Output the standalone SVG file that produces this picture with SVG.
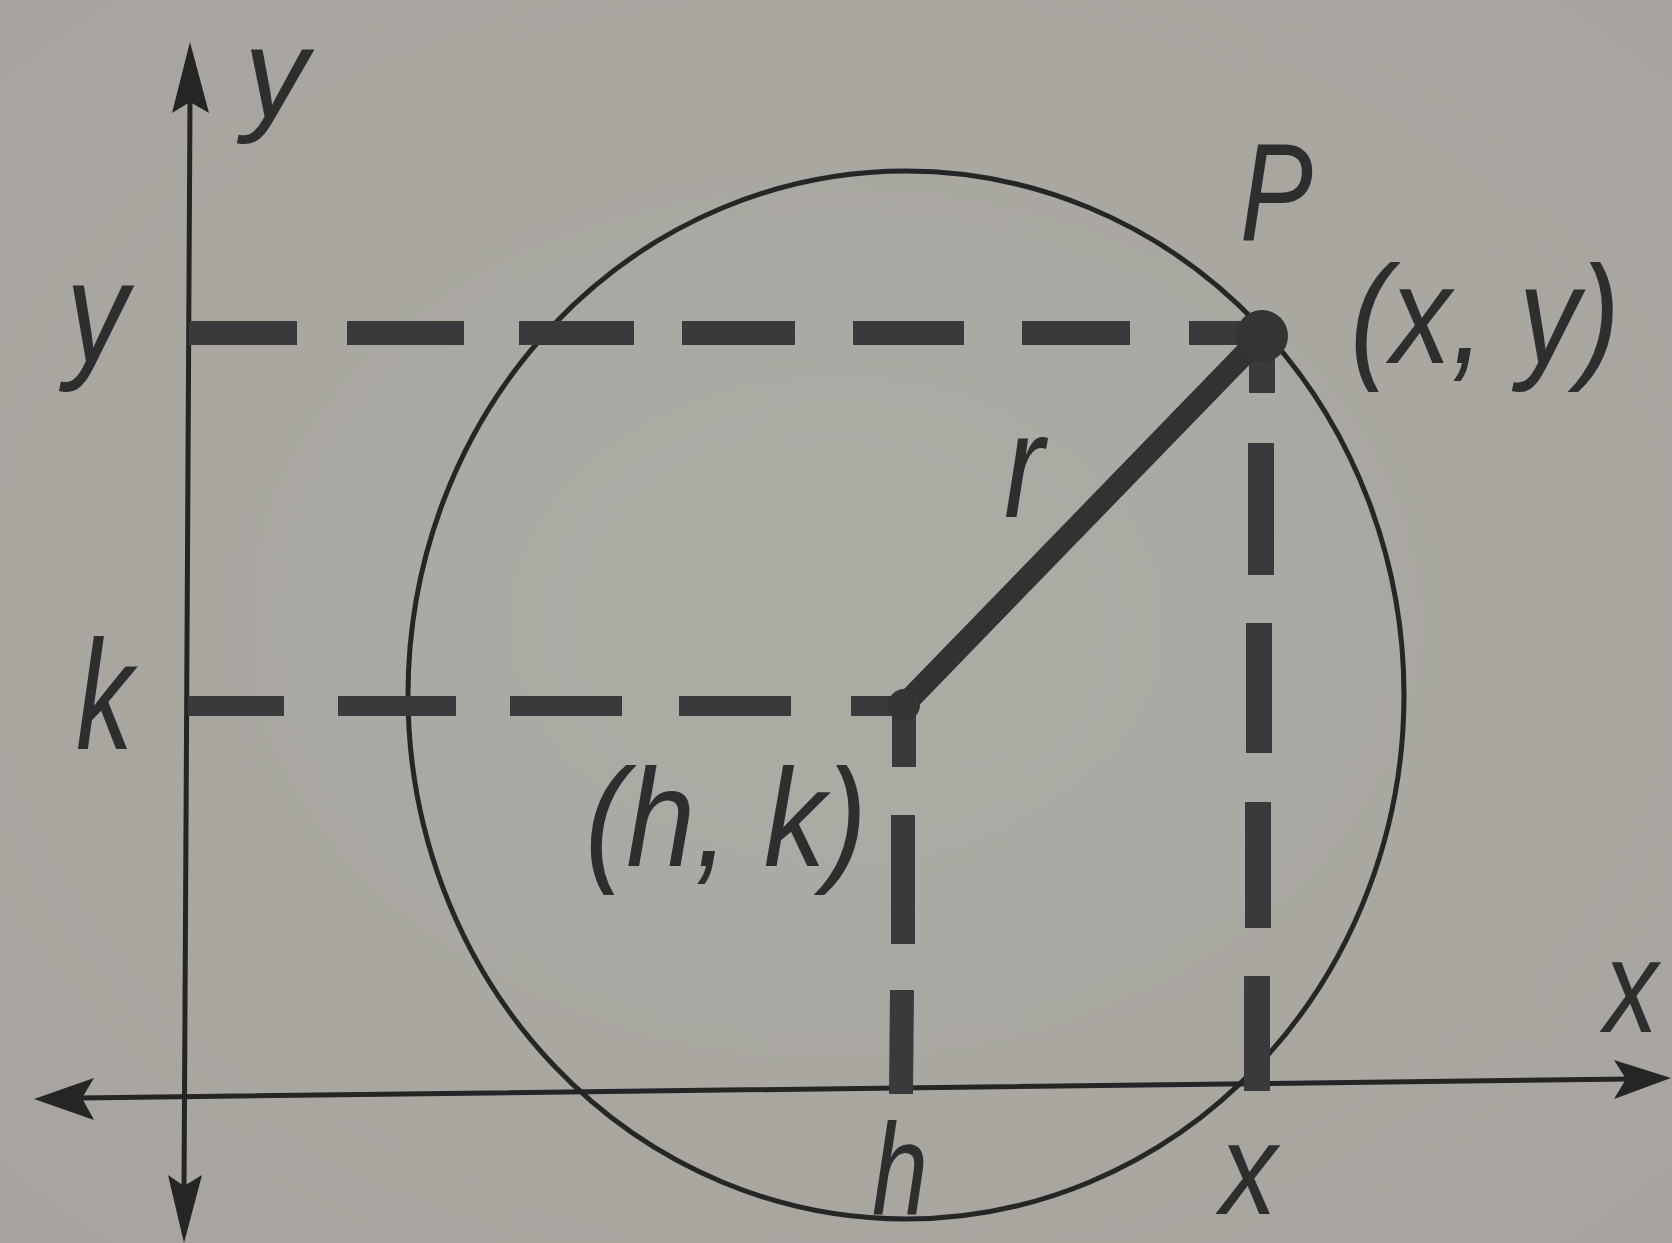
<svg xmlns="http://www.w3.org/2000/svg" width="1672" height="1243" viewBox="0 0 1672 1243">
  <defs>
    <radialGradient id="bg" cx="50%" cy="50%" r="70%">
      <stop offset="0" stop-color="#acaca5"/>
      <stop offset="1" stop-color="#a8a39e"/>
    </radialGradient>
  </defs>
  <style>
    .axis { stroke: #252525; stroke-width: 5; fill: none; stroke-linecap: round; }
    .head { fill: #252525; }
    .curve { stroke: #262626; stroke-width: 5; fill: none; }
    .dash { stroke: #3a393b; stroke-linecap: butt; fill: none; }
    .rad { stroke: #323232; stroke-width: 22; stroke-linecap: round; fill: none; }
    .dot { fill: #343434; }
    .lbl { font-family: "Liberation Sans", Arial, sans-serif; font-style: italic; fill: #2e2e2e; }
  </style>
  <rect x="0" y="0" width="1672" height="1243" fill="url(#bg)"/>

  <g id="circle">
    <ellipse class="curve" cx="906" cy="695" rx="498" ry="524"/>
  </g>

  <g id="axes">
    <line class="axis" x1="190" y1="100" x2="184" y2="1190"/>
    <polygon class="head" points="190,42 172,113 190,102 209,113"/>
    <polygon class="head" points="184,1243 168,1175 184,1186 202,1175"/>
    <line class="axis" x1="80" y1="1098" x2="1630" y2="1079"/>
    <polygon class="head" points="34,1099 94,1078 82,1098 94,1120"/>
    <polygon class="head" points="1671,1078 1614,1060 1626,1079 1614,1099"/>
  </g>

  <g id="connectors">
    <g class="dash" stroke-width="24">
      <line x1="189" y1="333" x2="297" y2="333"/>
      <line x1="347" y1="333" x2="464" y2="333"/>
      <line x1="519" y1="333" x2="634" y2="333"/>
      <line x1="682" y1="333" x2="795" y2="333"/>
      <line x1="853" y1="333" x2="964" y2="333"/>
      <line x1="1022" y1="333" x2="1130" y2="333"/>
      <line x1="1189" y1="333" x2="1262" y2="333"/>
    </g>
    <g class="dash" stroke-width="20">
      <line x1="188" y1="706" x2="284" y2="706"/>
      <line x1="338" y1="706" x2="456" y2="706"/>
      <line x1="510" y1="706" x2="622" y2="706"/>
      <line x1="679" y1="706" x2="791" y2="706"/>
      <line x1="851" y1="706" x2="906" y2="706"/>
    </g>
    <g class="dash" stroke-width="24">
      <line x1="904" y1="700" x2="904" y2="767"/>
      <line x1="903" y1="815" x2="903" y2="944"/>
      <line x1="902" y1="990" x2="901" y2="1094"/>
    </g>
    <g class="dash" stroke-width="26">
      <line x1="1262" y1="334" x2="1262" y2="393"/>
      <line x1="1261" y1="443" x2="1261" y2="575"/>
      <line x1="1259" y1="623" x2="1259" y2="753"/>
      <line x1="1258" y1="802" x2="1258" y2="928"/>
      <line x1="1257" y1="976" x2="1257" y2="1091"/>
    </g>
    <line class="rad" x1="904" y1="705" x2="1262" y2="336"/>
    <circle class="dot" cx="1262" cy="336" r="26"/>
    <circle class="dot" cx="904" cy="705" r="16"/>
  </g>

  <g id="labels">
    <text class="lbl" x="244" y="117" font-size="128">y</text>
    <text class="lbl" x="66" y="362" font-size="145" textLength="62" lengthAdjust="spacingAndGlyphs">y</text>
    <text class="lbl" x="76" y="749" font-size="155" textLength="57" lengthAdjust="spacingAndGlyphs">k</text>
    <text class="lbl" x="1240" y="240" font-size="140" textLength="73" lengthAdjust="spacingAndGlyphs">P</text>
    <text class="lbl" x="1350" y="363" font-size="140" textLength="270" lengthAdjust="spacingAndGlyphs">(x, y)</text>
    <text class="lbl" x="1004" y="517" font-size="148" textLength="40" lengthAdjust="spacingAndGlyphs">r</text>
    <text class="lbl" x="585" y="866" font-size="140" textLength="282" lengthAdjust="spacingAndGlyphs">(h, k)</text>
    <text class="lbl" x="872" y="1214" font-size="130" textLength="56" lengthAdjust="spacingAndGlyphs">h</text>
    <text class="lbl" x="1220" y="1214" font-size="130" textLength="57" lengthAdjust="spacingAndGlyphs">x</text>
    <text class="lbl" x="1604" y="1032" font-size="132" textLength="54" lengthAdjust="spacingAndGlyphs">x</text>
  </g>
</svg>
